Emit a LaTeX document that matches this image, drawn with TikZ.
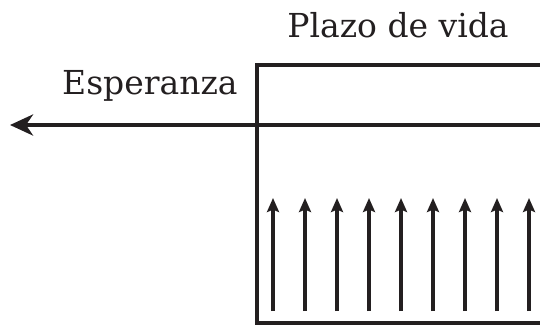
\documentclass[tikz,border=0pt]{standalone}
\usepackage{fontspec}
\setmainfont{DejaVu Serif}
\usetikzlibrary{arrows.meta}
\definecolor{tinta}{HTML}{231F20}
\begin{document}
\begin{tikzpicture}[x=0.5pt,y=-0.5pt,
    marco/.style={tinta,line width=2.4pt},
    flecha/.style={tinta,line width=2.4pt,-{Stealth[length=11.5pt,width=10.5pt,inset=3.5pt]}},
    subida/.style={tinta,line width=2.4pt,-{Stealth[length=7pt,width=6pt,inset=1.2pt]}},
    rotulo/.style={font=\fontsize{16.5}{20}\selectfont,text=tinta,inner sep=0pt}]

    % Fix the page size
    \useasboundingbox (0,0) rectangle (540,327);
    \clip (0,0) rectangle (540,327);

    % Labels
    \node[rotulo,anchor=base] (plazo) at (398,37) {Plazo de vida};
    \node[rotulo,anchor=base east] (esperanza) at (238,94) {Esperanza};

    % The open box
    \draw[marco] (560,65) -- (257,65) -- (257,323) -- (560,323);

    % Horizontal arrow pointing left
    \coordinate (derecha) at (560,125);
    \coordinate (izquierda) at (10,125);
    \draw[flecha] (derecha) -- (izquierda);

    % Row of upward arrows
    \foreach \i in {0, 1, ..., 8} {
        \coordinate (pie\i) at (273 + 32 * \i, 311);
        \coordinate (punta\i) at (273 + 32 * \i, 198);
        \draw[subida] (pie\i) -- (punta\i);
    }

\end{tikzpicture}
\end{document}
